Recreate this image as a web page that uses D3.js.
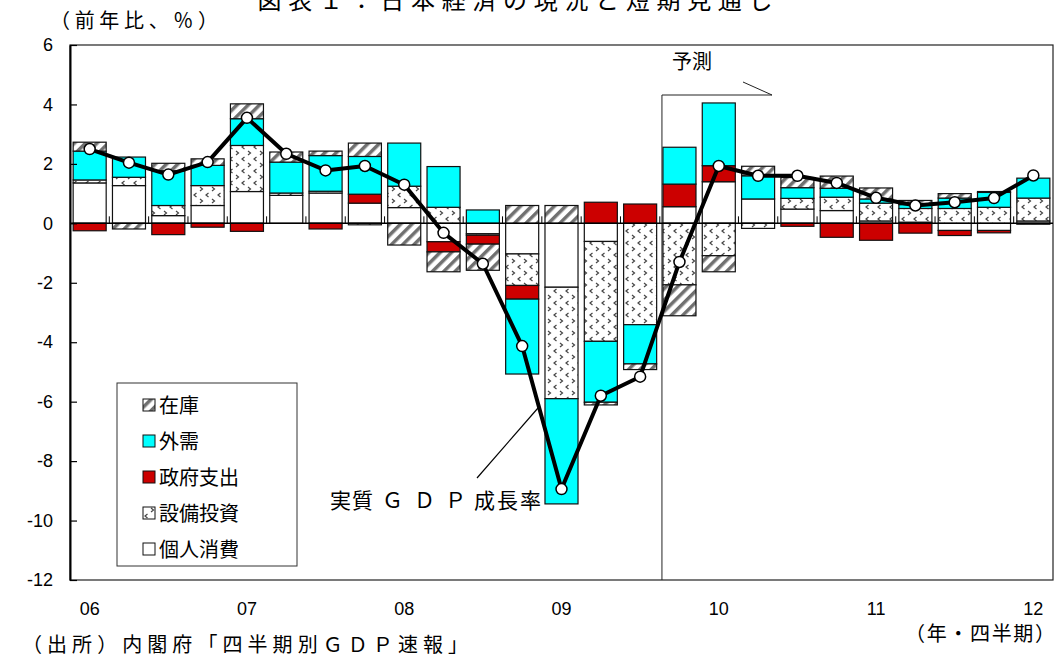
<!DOCTYPE html>
<html>
<head>
<meta charset="utf-8">
<script src="https://cdn.jsdelivr.net/npm/d3@7"></script>
<style>
  body { margin: 0; background: #fff; }
  svg { display: block; }
</style>
</head>
<body>
<script>
// quarters 2006Q1 .. 2012Q1
const quarters = ["06Q1","06Q2","06Q3","06Q4","07Q1","07Q2","07Q3","07Q4",
                  "08Q1","08Q2","08Q3","08Q4","09Q1","09Q2","09Q3","09Q4",
                  "10Q1","10Q2","10Q3","10Q4","11Q1","11Q2","11Q3","11Q4","12Q1"];
const yearLabels = ["06","07","08","09","10","11","12"];
const yTicks = [6, 4, 2, 0, -2, -4, -6, -8, -10, -12];

// contributions (%pt)
const consumption = [1.36, 1.27, 0.26, 0.60, 1.07, 0.94, 1.02, 0.68, 0.53, -0.62, -0.35, -1.03, -2.15,
                     -0.61, 0.00, 0.56, 1.40, 0.82, 0.48, 0.43, 0.08, 0.04, -0.24, -0.24, 0.08];
const investment  = [0.10, 0.28, 0.34, 0.67, 1.55, 0.08, 0.06, -0.05, 0.72, 0.54, -0.05, -1.06, -3.75,
                     -3.36, -3.41, -2.07, -1.09, -0.17, 0.36, 0.45, 0.60, 0.46, 0.50, 0.54, 0.77];
const government  = [-0.25, 0.00, -0.38, -0.13, -0.27, 0.00, -0.19, 0.30, 0.00, -0.34, -0.30, -0.46, 0.00,
                     0.71, 0.65, 0.76, 0.54, 0.00, -0.10, -0.47, -0.57, -0.33, -0.17, -0.08, 0.00];
const netExports  = [0.97, 0.68, 1.17, 0.68, 0.90, 1.04, 1.20, 1.27, 1.45, 1.37, 0.45, -2.52, -3.54,
                     -2.05, -1.32, 1.24, 2.11, 0.78, 0.36, 0.30, 0.14, 0.13, 0.35, 0.50, 0.67];
const inventory   = [0.30, -0.19, 0.25, 0.22, 0.50, 0.34, 0.15, 0.45, -0.73, -0.67, -0.88, 0.60, 0.60,
                     -0.09, -0.19, -1.04, -0.54, 0.32, 0.34, 0.41, 0.37, 0.14, 0.15, 0.03, -0.03];
const gdp         = [2.50, 2.04, 1.64, 2.06, 3.55, 2.34, 1.78, 1.93, 1.30, -0.32, -1.36, -4.13, -8.94,
                     -5.80, -5.16, -1.30, 1.93, 1.60, 1.60, 1.36, 0.86, 0.60, 0.71, 0.85, 1.61];

const seriesKeys = ["個人消費", "設備投資", "政府支出", "外需", "在庫"];
const seriesFill = {"個人消費": "#fff", "設備投資": "url(#dots)", "政府支出": "#cc0000",
                    "外需": "#00ffff", "在庫": "url(#hatch)"};
const legendOrder = ["在庫", "外需", "政府支出", "設備投資", "個人消費"];

const rows = quarters.map((q, i) => ({
  q: q,
  "個人消費": consumption[i], "設備投資": investment[i], "政府支出": government[i],
  "外需": netExports[i], "在庫": inventory[i]
}));

const W = 1059, H = 659;
const plotLeft = 70, plotRight = 1053, plotTop = 45, plotBottom = 580;
const jp = "'Noto Sans CJK JP', 'Noto Sans', sans-serif";
const num = "'Liberation Sans', Arial, sans-serif";

const svg = d3.select("body").append("svg")
  .attr("width", W).attr("height", H);

// patterns
const defs = svg.append("defs");
const hatch = defs.append("pattern").attr("id", "hatch")
  .attr("patternUnits", "userSpaceOnUse").attr("width", 8).attr("height", 8)
  .attr("patternTransform", "rotate(45)");
hatch.append("rect").attr("width", 8).attr("height", 8).attr("fill", "#fff");
hatch.append("rect").attr("width", 3.5).attr("height", 8).attr("fill", "#707070");

const dots = defs.append("pattern").attr("id", "dots")
  .attr("patternUnits", "userSpaceOnUse").attr("width", 12).attr("height", 12);
dots.append("rect").attr("width", 12).attr("height", 12).attr("fill", "#fff");
dots.append("path").attr("d", "M4.5,1 L2,3 L4.5,5").attr("fill", "none")
  .attr("stroke", "#444").attr("stroke-width", 1.2);
dots.append("path").attr("d", "M8,7 L10.5,9 L8,11").attr("fill", "none")
  .attr("stroke", "#444").attr("stroke-width", 1.2);

// scales
const x = d3.scaleBand().domain(quarters).range([plotLeft, plotRight])
  .paddingInner(0.16).paddingOuter(0.08);
const y = d3.scaleLinear().domain([-12, 6]).range([plotBottom, plotTop]);

// title (cut at top of picture, as in the original)
svg.append("text").attr("x", 515).attr("y", 9)
  .attr("text-anchor", "middle").attr("font-family", jp).attr("font-size", 24)
  .attr("textLength", 515).attr("lengthAdjust", "spacing")
  .text("図表１：日本経済の現況と短期見通し");

// unit label
svg.append("text").attr("x", 50).attr("y", 28)
  .attr("font-family", jp).attr("font-size", 20)
  .attr("textLength", 168).attr("lengthAdjust", "spacing")
  .text("（前年比、％）");

// frame
svg.append("rect").attr("x", plotLeft).attr("y", plotTop)
  .attr("width", plotRight - plotLeft).attr("height", plotBottom - plotTop)
  .attr("fill", "none").attr("stroke", "#222").attr("stroke-width", 1.2);

// forecast bracket
const fx = x("09Q4") - 1;
svg.append("path")
  .attr("d", `M${fx},${plotBottom} L${fx},95 L772,95 M772,95 L743,82`)
  .attr("fill", "none").attr("stroke", "#222").attr("stroke-width", 1);
svg.append("text").attr("x", 692).attr("y", 69).attr("text-anchor", "middle")
  .attr("font-family", jp).attr("font-size", 20).text("予測");

// stacked bars
const stacked = d3.stack().keys(seriesKeys).offset(d3.stackOffsetDiverging)(rows);
const barG = svg.append("g");
stacked.forEach(s => {
  barG.append("g").selectAll("rect")
    .data(s.filter(d => d[1] !== d[0]))
    .join("rect")
    .attr("x", d => x(d.data.q))
    .attr("width", x.bandwidth())
    .attr("y", d => y(Math.max(d[0], d[1])))
    .attr("height", d => Math.abs(y(d[0]) - y(d[1])))
    .attr("fill", seriesFill[s.key])
    .attr("stroke", "#111").attr("stroke-width", 1.2);
});

// zero axis with small ticks between categories
const step = x.step();
const gap = (step - x.bandwidth()) / 2;
svg.append("line").attr("x1", plotLeft).attr("x2", plotRight)
  .attr("y1", y(0)).attr("y2", y(0))
  .attr("stroke", "#000").attr("stroke-width", 1.5);
svg.append("g").selectAll("line")
  .data(quarters.slice(1))
  .join("line")
  .attr("x1", q => x(q) - gap).attr("x2", q => x(q) - gap)
  .attr("y1", y(0)).attr("y2", y(0) - 7)
  .attr("stroke", "#000").attr("stroke-width", 1);

// y axis
const yAxis = svg.append("g").attr("transform", `translate(${plotLeft},0)`)
  .call(d3.axisLeft(y).tickValues(yTicks).tickFormat(d => String(d))
    .tickSizeInner(-7).tickSizeOuter(0).tickPadding(17));
yAxis.select(".domain").attr("stroke", "#000").attr("stroke-width", 2);
yAxis.selectAll(".tick line").attr("stroke", "#000").attr("stroke-width", 1.2);
yAxis.selectAll("text").attr("font-family", num).attr("font-size", 18).attr("fill", "#000");

// year labels
svg.append("g").selectAll("text")
  .data(yearLabels)
  .join("text")
  .attr("x", d => x(d + "Q1") + x.bandwidth() / 2)
  .attr("y", 615)
  .attr("text-anchor", "middle")
  .attr("font-family", num).attr("font-size", 18)
  .text(d => d);

svg.append("text").attr("x", 905).attr("y", 641)
  .attr("font-family", jp).attr("font-size", 20)
  .attr("textLength", 150).attr("lengthAdjust", "spacing")
  .text("（年・四半期）");
svg.append("text").attr("x", 22).attr("y", 652)
  .attr("font-family", jp).attr("font-size", 20)
  .attr("textLength", 446).attr("lengthAdjust", "spacing")
  .text("（出所）内閣府「四半期別ＧＤＰ速報」");

// GDP line
const line = d3.line()
  .x((d, i) => x(quarters[i]) + x.bandwidth() / 2)
  .y(d => y(d));
svg.append("path").datum(gdp)
  .attr("d", line)
  .attr("fill", "none").attr("stroke", "#000").attr("stroke-width", 4)
  .attr("stroke-linejoin", "round");
svg.append("g").selectAll("circle")
  .data(gdp)
  .join("circle")
  .attr("cx", (d, i) => x(quarters[i]) + x.bandwidth() / 2)
  .attr("cy", d => y(d))
  .attr("r", 5.5)
  .attr("fill", "#fff").attr("stroke", "#000").attr("stroke-width", 1.5);

// GDP label + leader line
svg.append("line").attr("x1", 477).attr("y1", 478).attr("x2", 538).attr("y2", 408)
  .attr("stroke", "#000").attr("stroke-width", 1.2);
svg.append("text").attr("x", "330 352 382 414 445 474 497 520").attr("y", 508)
  .attr("font-family", jp).attr("font-size", 21)
  .text("実質ＧＤＰ成長率");

// legend
const lg = svg.append("g");
lg.append("rect").attr("x", 117).attr("y", 383).attr("width", 180).attr("height", 183)
  .attr("fill", "#fff").attr("stroke", "#333").attr("stroke-width", 1);
const item = lg.selectAll("g.item")
  .data(legendOrder)
  .join("g").attr("class", "item")
  .attr("transform", (d, i) => `translate(143,${405 + i * 36})`);
item.append("rect").attr("x", 0).attr("y", -6).attr("width", 12).attr("height", 12)
  .attr("fill", d => seriesFill[d]).attr("stroke", "#111").attr("stroke-width", 1);
item.append("text").attr("x", 16).attr("y", 8)
  .attr("font-family", jp).attr("font-size", 20)
  .text(d => d);
</script>
</body>
</html>
